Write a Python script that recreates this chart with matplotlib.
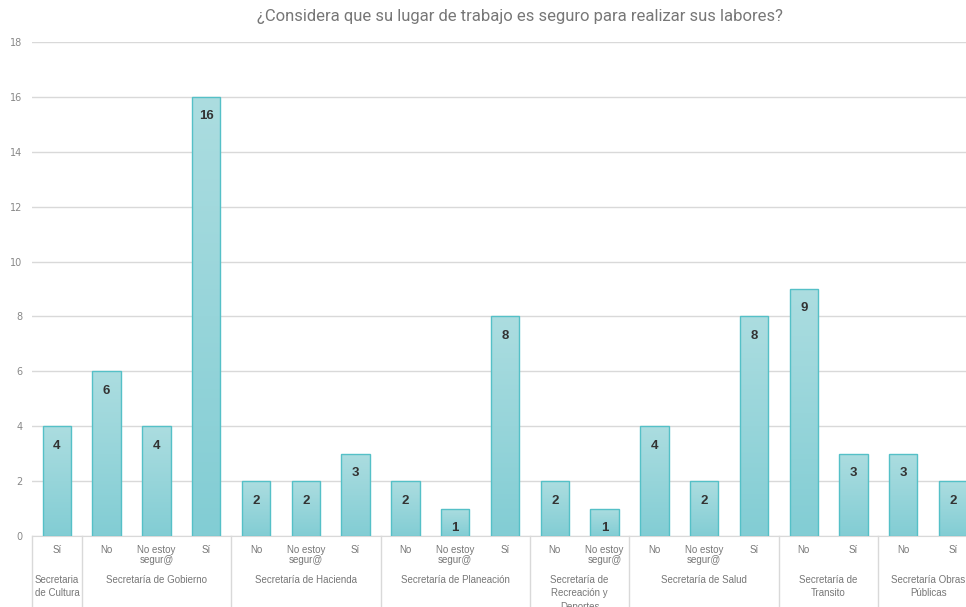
import numpy as np
import matplotlib.pyplot as plt
from matplotlib.colors import LinearSegmentedColormap
import matplotlib.transforms as mtransforms

# Data
answers = ["Sí",
           "No", "No estoy\nsegur@", "Sí",
           "No", "No estoy\nsegur@", "Sí",
           "No", "No estoy\nsegur@", "Sí",
           "No", "No estoy\nsegur@",
           "No", "No estoy\nsegur@", "Sí",
           "No", "Sí",
           "No", "Sí"]
values = [4,
          6, 4, 16,
          2, 2, 3,
          2, 1, 8,
          2, 1,
          4, 2, 8,
          9, 3,
          3, 2]
groups = ["Secretaria\nde Cultura", "Secretaría de Gobierno", "Secretaría de Hacienda",
          "Secretaría de Planeación", "Secretaría de\nRecreación y\nDeportes",
          "Secretaría de Salud", "Secretaría de\nTransito", "Secretaría Obras\nPúblicas"]
group_sizes = [1, 3, 3, 3, 2, 3, 2, 2]

title = "¿Considera que su lugar de trabajo es seguro para realizar sus labores?"

W, H = 966, 607
fig = plt.figure(figsize=(W / 100, H / 100), dpi=100)
ax = fig.add_axes([32 / W, 71 / H, (966 - 32) / W, (565 - 71) / H])

x = np.arange(len(values))
bars = ax.bar(x, values, width=0.57, color="none", edgecolor="#55c0c7", linewidth=1.0, zorder=3)

# vertical gradient fill for each bar
cmap = LinearSegmentedColormap.from_list("teal", ["#82cdd4", "#acdde0"])
grad = np.linspace(0, 1, 256).reshape(-1, 1)
for b in bars:
    x0, y0 = b.get_x(), b.get_y()
    w, h = b.get_width(), b.get_height()
    im = ax.imshow(grad, cmap=cmap, origin="lower", aspect="auto",
                   extent=(x0, x0 + w, y0, y0 + h), zorder=2)
    im.set_clip_path(b)

for xi, v in zip(x, values):
    ax.annotate(str(v), (xi, v), xytext=(0, -14), textcoords="offset points",
                ha="center", va="center", fontsize=9.5, fontweight="bold",
                color="#333333", family="Liberation Sans", zorder=4)

ax.set_xlim(-0.5, 18.26)
ax.set_ylim(0, 18)
ax.set_yticks(np.arange(0, 19, 2))
ax.tick_params(axis="y", length=0, labelsize=7, labelcolor="#888888", pad=7)
ax.set_xticks([])
ax.grid(axis="y", color="#d9d9d9", linewidth=1.0, zorder=0)
for s in ["top", "right", "left"]:
    ax.spines[s].set_visible(False)
ax.spines["bottom"].set_color("#d9d9d9")
ax.set_axisbelow(True)

# category labels below the axis
trans = mtransforms.blended_transform_factory(ax.transData, ax.transAxes)
for xi, lab in zip(x, answers):
    ax.text(xi, -0.018, lab, transform=trans, ha="center", va="top",
            fontsize=7, color="#777777", family="Liberation Sans", linespacing=1.0)

start = 0
bounds = [0]
for g, n in zip(groups, group_sizes):
    center = start + (n - 1) / 2
    ax.text(center, -0.078, g, transform=trans, ha="center", va="top",
            fontsize=7, color="#777777", family="Liberation Sans", linespacing=1.45)
    start += n
    bounds.append(start)

for bd in bounds:
    ax.plot([bd - 0.5, bd - 0.5], [0, -0.2], transform=trans, color="#d9d9d9",
            linewidth=1.0, clip_on=False)

fig.text(520 / W, 1 - 16 / H, title, ha="center", va="center", fontsize=12,
         color="#777777", family="Roboto")

fig.savefig("out.png", dpi=100)
